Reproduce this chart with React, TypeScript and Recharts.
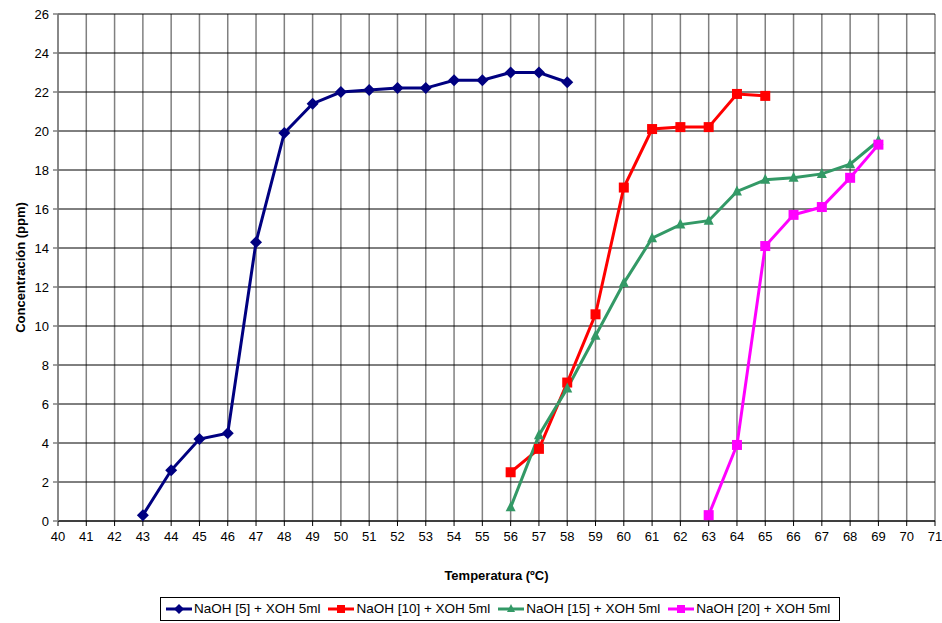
import React from "react";
import {
  LineChart,
  Line,
  XAxis,
  YAxis,
  CartesianGrid,
  Legend,
  Label,
} from "recharts";

const temps5 = [43, 44, 45, 46, 47, 48, 49, 50, 51, 52, 53, 54, 55, 56, 57, 58];
const conc5 = [0.3, 2.6, 4.2, 4.5, 14.3, 19.9, 21.4, 22.0, 22.1, 22.2, 22.2, 22.6, 22.6, 23.0, 23.0, 22.5];

const temps10 = [56, 57, 58, 59, 60, 61, 62, 63, 64, 65];
const conc10 = [2.5, 3.7, 7.1, 10.6, 17.1, 20.1, 20.2, 20.2, 21.9, 21.8];

const temps15 = [56, 57, 58, 59, 60, 61, 62, 63, 64, 65, 66, 67, 68, 69];
const conc15 = [0.7, 4.4, 6.8, 9.5, 12.2, 14.5, 15.2, 15.4, 16.9, 17.5, 17.6, 17.8, 18.3, 19.5];

const temps20 = [63, 64, 65, 66, 67, 68, 69];
const conc20 = [0.3, 3.9, 14.1, 15.7, 16.1, 17.6, 19.3];

const xTicks = Array.from({ length: 32 }, (_, i) => 40 + i);
const yTicks = [0, 2, 4, 6, 8, 10, 12, 14, 16, 18, 20, 22, 24, 26];

const toRows = (t: number[], c: number[]) => t.map((x, i) => ({ t: x, c: c[i] }));

const series = [
  { name: "NaOH [5] + XOH 5ml", color: "#000080", shape: "diamond", data: toRows(temps5, conc5) },
  { name: "NaOH [10] + XOH 5ml", color: "#ff0000", shape: "square", data: toRows(temps10, conc10) },
  { name: "NaOH [15] + XOH 5ml", color: "#339966", shape: "triangle", data: toRows(temps15, conc15) },
  { name: "NaOH [20] + XOH 5ml", color: "#ff00ff", shape: "square", data: toRows(temps20, conc20) },
];

const FONT = "Liberation Sans, Arial, sans-serif";

const Marker = ({ cx, cy, shape, color, size = 5 }: any) => {
  if (cx == null || cy == null) return null;
  if (shape === "diamond") {
    return (
      <polygon
        points={`${cx},${cy - size - 1} ${cx + size + 1},${cy} ${cx},${cy + size + 1} ${cx - size - 1},${cy}`}
        fill={color}
      />
    );
  }
  if (shape === "triangle") {
    return (
      <polygon
        points={`${cx},${cy - size - 1} ${cx + size},${cy + size - 1} ${cx - size},${cy + size - 1}`}
        fill={color}
      />
    );
  }
  return <rect x={cx - size} y={cy - size} width={size * 2} height={size * 2} fill={color} />;
};

const LegendBox = () => (
  <div style={{ position: "relative", height: 26 }}>
    <div
      style={{
        position: "absolute",
        left: 160,
        top: 0,
        display: "inline-flex",
        whiteSpace: "nowrap",
        border: "1px solid #000",
        padding: "3px 2px 4px 4px",
        fontFamily: FONT,
        fontSize: 13.5,
        alignItems: "center",
      }}
    >
      {series.map((s) => (
        <span key={s.name} style={{ display: "inline-flex", alignItems: "center", marginRight: 7 }}>
          <svg width={28} height={14}>
            <line x1={1} y1={7} x2={27} y2={7} stroke={s.color} strokeWidth={3} />
            <Marker cx={14} cy={7} shape={s.shape} color={s.color} size={4} />
          </svg>
          <span style={{ marginLeft: 1 }}>{s.name}</span>
        </span>
      ))}
    </div>
  </div>
);

export default function App() {
  return (
    <div style={{ position: "absolute", top: 0, left: 0, background: "#fff", width: 942, height: 623 }}>
      <LineChart
        width={942}
        height={623}
        margin={{ top: 14, right: 7, bottom: 0, left: 0 }}
        style={{ fontFamily: FONT }}
      >
        <CartesianGrid horizontal={false} stroke="#808080" strokeWidth={1.5} />
        <CartesianGrid vertical={false} stroke="#000" strokeWidth={1} />
        <XAxis
          type="number"
          dataKey="t"
          domain={[40, 71]}
          ticks={xTicks}
          interval={0}
          allowDuplicatedCategory={false}
          stroke="#000"
          tickSize={5}
          tickMargin={6}
          tick={{ fill: "#000", fontSize: 13 }}
          height={76}
        >
          <Label
            value="Temperatura (ºC)"
            position="insideTop"
            offset={50}
            style={{ fontWeight: "bold", fontSize: 13, fill: "#000" }}
          />
        </XAxis>
        <YAxis
          type="number"
          domain={[0, 26]}
          ticks={yTicks}
          interval={0}
          stroke="#808080"
          strokeWidth={1.5}
          tickSize={5}
          tickMargin={4}
          tick={{ fill: "#000", fontSize: 13 }}
          width={58}
        >
          <Label
            value="Concentración (ppm)"
            angle={-90}
            position="insideLeft"
            offset={20}
            style={{ fontWeight: "bold", fontSize: 13, fill: "#000", textAnchor: "middle" }}
          />
        </YAxis>
        <Legend
          verticalAlign="bottom"
          align="left"
          content={() => <LegendBox />}
          wrapperStyle={{ bottom: 0, left: 0, width: 942 }}
        />
        {series.map((s) => (
          <Line
            key={s.name}
            data={s.data}
            dataKey="c"
            name={s.name}
            type="linear"
            stroke={s.color}
            strokeWidth={3}
            isAnimationActive={false}
            dot={(p: any) => (
              <Marker key={`${s.name}-${p.index}`} cx={p.cx} cy={p.cy} shape={s.shape} color={s.color} />
            )}
            activeDot={false}
          />
        ))}
      </LineChart>
    </div>
  );
}
